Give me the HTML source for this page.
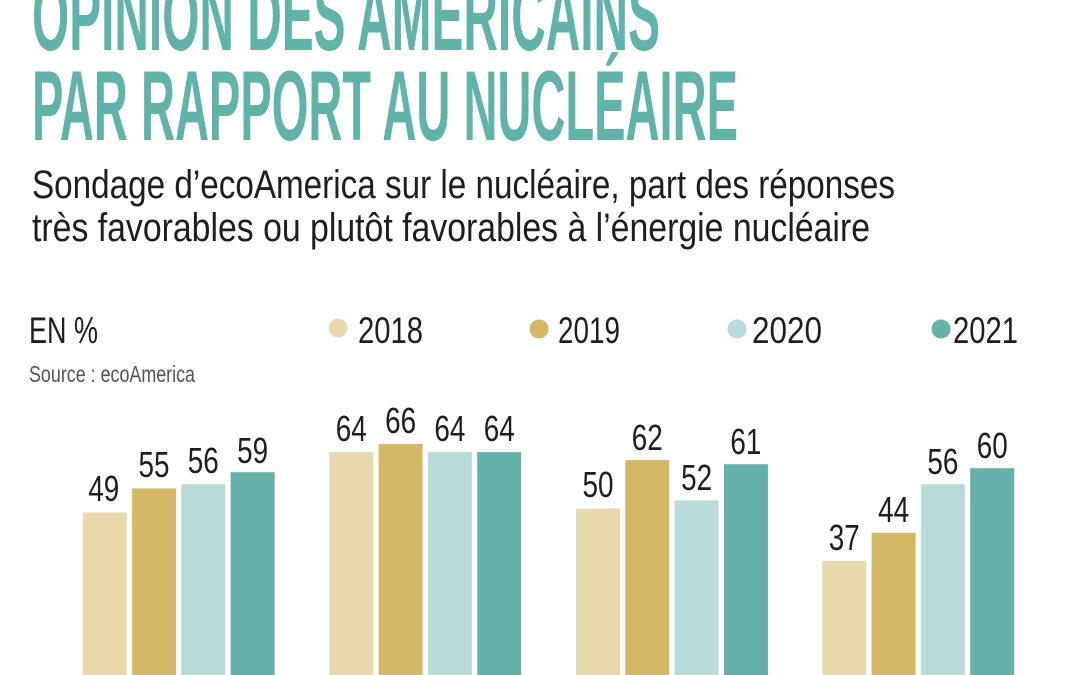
<!DOCTYPE html>
<html>
<head>
<meta charset="utf-8">
<style>
html,body{margin:0;padding:0;background:#fff;}
svg{display:block;}
</style>
</head>
<body>
<svg width="1080" height="675" viewBox="0 0 1080 675" xmlns="http://www.w3.org/2000/svg">
<rect x="0" y="0" width="1080" height="675" fill="#ffffff"/>
<g font-family="'Liberation Sans', sans-serif" fill="#5fb3a9" font-size="99" font-weight="bold">
<text x="32" y="50" textLength="628" lengthAdjust="spacingAndGlyphs">OPINION DES AMÉRICAINS</text>
<text x="32" y="140" textLength="706" lengthAdjust="spacingAndGlyphs">PAR RAPPORT AU NUCLÉAIRE</text>
</g>
<g font-family="'Liberation Sans', sans-serif" fill="#1e1e1e" font-size="40">
<text x="32" y="198" textLength="863" lengthAdjust="spacingAndGlyphs">Sondage d’ecoAmerica sur le nucléaire, part des réponses</text>
<text x="32" y="241" textLength="838" lengthAdjust="spacingAndGlyphs">très favorables ou plutôt favorables à l’énergie nucléaire</text>
</g>
<g font-family="'Liberation Sans', sans-serif" fill="#1e1e1e" font-size="37">
<text x="29" y="343" textLength="69" lengthAdjust="spacingAndGlyphs">EN %</text>
<circle cx="338" cy="328" r="9.5" fill="#e8d9ad"/>
<text x="358" y="343" textLength="65" lengthAdjust="spacingAndGlyphs">2018</text>
<circle cx="539" cy="329" r="9.5" fill="#d4b866"/>
<text x="558" y="343" textLength="62" lengthAdjust="spacingAndGlyphs">2019</text>
<circle cx="737" cy="329" r="9.5" fill="#b9dcda"/>
<text x="752" y="343" textLength="70" lengthAdjust="spacingAndGlyphs">2020</text>
<circle cx="941" cy="329" r="9.5" fill="#64b1aa"/>
<text x="953" y="343" textLength="65" lengthAdjust="spacingAndGlyphs">2021</text>
</g>
<text x="29" y="382" font-family="'Liberation Sans', sans-serif" font-size="23" fill="#555" textLength="166" lengthAdjust="spacingAndGlyphs">Source : ecoAmerica</text>

<g>
<rect x="82.7" y="512.5" width="44" height="170" fill="#e8d9ad"/>
<rect x="132" y="488.4" width="44" height="200" fill="#d4b866"/>
<rect x="181.3" y="484.3" width="44" height="200" fill="#b9dcda"/>
<rect x="230.6" y="472.2" width="44" height="210" fill="#64b1aa"/>
<rect x="329.3" y="452.1" width="44" height="230" fill="#e8d9ad"/>
<rect x="378.6" y="444" width="44" height="240" fill="#d4b866"/>
<rect x="427.9" y="452.1" width="44" height="230" fill="#b9dcda"/>
<rect x="477.2" y="452.1" width="44" height="230" fill="#64b1aa"/>
<rect x="576" y="508.5" width="44" height="170" fill="#e8d9ad"/>
<rect x="625.3" y="460.1" width="44" height="220" fill="#d4b866"/>
<rect x="674.6" y="500.4" width="44" height="180" fill="#b9dcda"/>
<rect x="723.9" y="464.2" width="44" height="220" fill="#64b1aa"/>
<rect x="822.3" y="560.9" width="44" height="120" fill="#e8d9ad"/>
<rect x="871.6" y="532.7" width="44" height="150" fill="#d4b866"/>
<rect x="920.9" y="484.3" width="44" height="200" fill="#b9dcda"/>
<rect x="970.2" y="468.2" width="44" height="210" fill="#64b1aa"/>
</g>

<g font-family="'Liberation Sans', sans-serif" fill="#1e1e1e" font-size="36" text-anchor="middle">
<text x="103.7" y="501" textLength="31" lengthAdjust="spacingAndGlyphs">49</text>
<text x="154" y="477" textLength="31" lengthAdjust="spacingAndGlyphs">55</text>
<text x="203.3" y="473" textLength="31" lengthAdjust="spacingAndGlyphs">56</text>
<text x="252.6" y="463" textLength="31" lengthAdjust="spacingAndGlyphs">59</text>
<text x="351.3" y="441" textLength="31" lengthAdjust="spacingAndGlyphs">64</text>
<text x="400.6" y="433" textLength="31" lengthAdjust="spacingAndGlyphs">66</text>
<text x="449.9" y="441" textLength="31" lengthAdjust="spacingAndGlyphs">64</text>
<text x="499.2" y="441" textLength="31" lengthAdjust="spacingAndGlyphs">64</text>
<text x="598" y="497" textLength="31" lengthAdjust="spacingAndGlyphs">50</text>
<text x="647.3" y="450" textLength="31" lengthAdjust="spacingAndGlyphs">62</text>
<text x="696.6" y="490" textLength="31" lengthAdjust="spacingAndGlyphs">52</text>
<text x="745.9" y="454" textLength="31" lengthAdjust="spacingAndGlyphs">61</text>
<text x="844.3" y="550" textLength="31" lengthAdjust="spacingAndGlyphs">37</text>
<text x="893.6" y="522" textLength="31" lengthAdjust="spacingAndGlyphs">44</text>
<text x="942.9" y="474" textLength="31" lengthAdjust="spacingAndGlyphs">56</text>
<text x="992.2" y="458" textLength="31" lengthAdjust="spacingAndGlyphs">60</text>
</g>
</svg>
</body>
</html>
